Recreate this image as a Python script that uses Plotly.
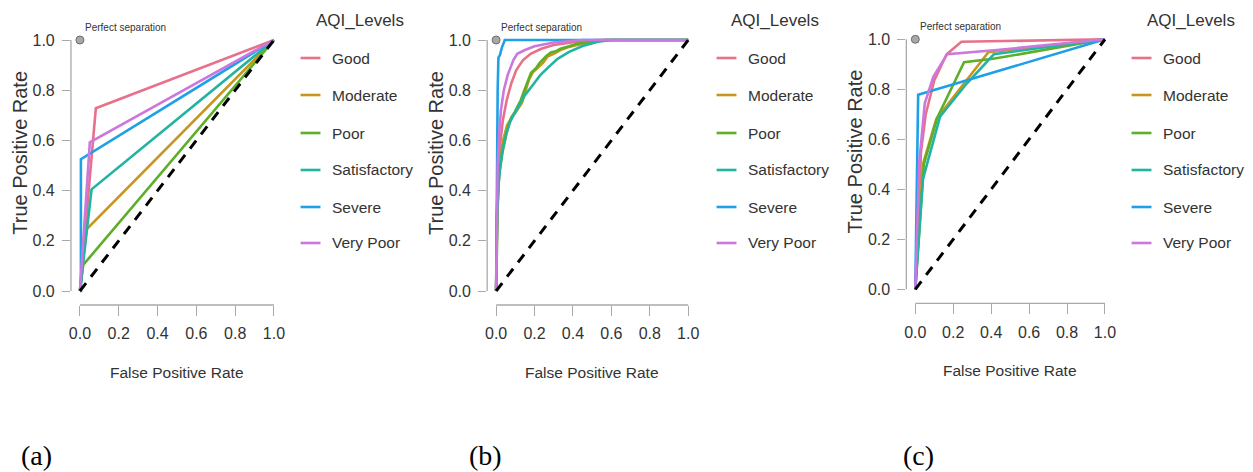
import plotly.graph_objects as go

# ---------------------------------------------------------------- data
levels = ["Good", "Moderate", "Poor", "Satisfactory", "Severe", "Very Poor"]
line_colors = ["#E8718A", "#C8961E", "#5DAF2A", "#21B4A0", "#1FA0E6", "#CC77DD"]

tick_vals = [0.0, 0.2, 0.4, 0.6, 0.8, 1.0]
tick_text = ["0.0", "0.2", "0.4", "0.6", "0.8", "1.0"]
panel_tags = ["(a)", "(b)", "(c)"]

# (a) single-threshold ROC curves
fpr_a = {
    "Good": [0.0, 0.082, 1.0],
    "Moderate": [0.0, 0.034, 1.0],
    "Poor": [0.0, 0.017, 1.0],
    "Satisfactory": [0.0, 0.060, 1.0],
    "Severe": [0.0, 0.005, 0.005, 1.0],
    "Very Poor": [0.0, 0.051, 1.0],
}
tpr_a = {
    "Good": [0.0, 0.728, 1.0],
    "Moderate": [0.0, 0.246, 1.0],
    "Poor": [0.0, 0.104, 1.0],
    "Satisfactory": [0.0, 0.405, 1.0],
    "Severe": [0.0, 0.0, 0.525, 1.0],
    "Very Poor": [0.0, 0.592, 1.0],
}

# (b) probability-based ROC curves
fpr_b = {
    "Good": [0.0, 0.003, 0.010, 0.020, 0.035, 0.055, 0.080, 0.105, 0.140, 0.180, 0.235, 0.300, 0.420, 0.520, 1.0],
    "Moderate": [0.0, 0.005, 0.012, 0.020, 0.036, 0.057, 0.080, 0.100, 0.135, 0.150, 0.170, 0.190, 0.220, 0.245, 0.270, 0.300, 0.335, 0.370, 0.420, 0.500, 0.570, 1.0],
    "Poor": [0.0, 0.005, 0.010, 0.017, 0.035, 0.055, 0.078, 0.095, 0.128, 0.147, 0.165, 0.182, 0.210, 0.228, 0.260, 0.285, 0.310, 0.335, 0.380, 0.420, 0.500, 0.560, 1.0],
    "Satisfactory": [0.0, 0.005, 0.015, 0.030, 0.050, 0.070, 0.090, 0.120, 0.150, 0.190, 0.230, 0.270, 0.320, 0.380, 0.450, 0.530, 0.600, 1.0],
    "Severe": [0.0, 0.003, 0.005, 0.008, 0.012, 0.020, 0.030, 0.045, 1.0],
    "Very Poor": [0.0, 0.003, 0.008, 0.015, 0.025, 0.040, 0.060, 0.075, 0.090, 0.110, 0.150, 0.200, 0.300, 0.450, 1.0],
}
tpr_b = {
    "Good": [0.0, 0.300, 0.450, 0.580, 0.680, 0.760, 0.830, 0.880, 0.920, 0.945, 0.965, 0.980, 0.993, 1.000, 1.0],
    "Moderate": [0.0, 0.300, 0.420, 0.520, 0.600, 0.660, 0.690, 0.710, 0.750, 0.790, 0.840, 0.870, 0.890, 0.910, 0.935, 0.945, 0.960, 0.970, 0.980, 0.990, 1.000, 1.0],
    "Poor": [0.0, 0.300, 0.400, 0.470, 0.560, 0.630, 0.690, 0.710, 0.760, 0.800, 0.840, 0.870, 0.890, 0.910, 0.935, 0.950, 0.955, 0.965, 0.975, 0.985, 0.995, 1.000, 1.0],
    "Satisfactory": [0.0, 0.300, 0.450, 0.550, 0.620, 0.670, 0.700, 0.740, 0.780, 0.820, 0.860, 0.890, 0.925, 0.953, 0.976, 0.993, 1.000, 1.0],
    "Severe": [0.0, 0.300, 0.690, 0.800, 0.930, 0.940, 0.970, 1.000, 1.0],
    "Very Poor": [0.0, 0.300, 0.500, 0.620, 0.720, 0.800, 0.860, 0.890, 0.920, 0.945, 0.960, 0.975, 0.990, 1.000, 1.0],
}

# (c) coarse multi-threshold ROC curves
fpr_c = {
    "Good": [0.0, 0.030, 0.055, 0.100, 0.165, 0.243, 1.0],
    "Moderate": [0.0, 0.040, 0.110, 0.385, 1.0],
    "Poor": [0.0, 0.045, 0.115, 0.257, 0.410, 1.0],
    "Satisfactory": [0.0, 0.040, 0.130, 0.270, 0.414, 1.0],
    "Severe": [0.0, 0.015, 1.0],
    "Very Poor": [0.0, 0.020, 0.050, 0.095, 0.168, 0.430, 1.0],
}
tpr_c = {
    "Good": [0.0, 0.550, 0.700, 0.835, 0.940, 0.990, 1.0],
    "Moderate": [0.0, 0.500, 0.680, 0.948, 1.0],
    "Poor": [0.0, 0.500, 0.685, 0.908, 0.922, 1.0],
    "Satisfactory": [0.0, 0.440, 0.690, 0.822, 0.940, 1.0],
    "Severe": [0.0, 0.778, 1.0],
    "Very Poor": [0.0, 0.500, 0.744, 0.850, 0.940, 0.957, 1.0],
}

curves = [(fpr_a, tpr_a), (fpr_b, tpr_b), (fpr_c, tpr_c)]

# ---------------------------------------------------------------- layout geometry (pixels)
W, H = 1253, 472
# pixel position of data 0 and 1 on each axis, per panel
frames = [
    dict(x0=78.3, x1=273.3, y0=291.0, y1=40.0),
    dict(x0=496.5, x1=689.5, y0=291.0, y1=40.0),
    dict(x0=917.7, x1=1108.3, y0=289.3, y1=39.3),
]
legend_x = [300, 718, 1135]
legend_rows = [58, 95, 133, 170, 207, 243]
tag_x = [35, 486, 921]

SANS = "Liberation Sans, Arial, sans-serif"
SERIF = "Liberation Serif, Times New Roman, serif"
AXIS_GREY = "#a9a9a9"
TEXT = "#333333"

fig = go.Figure()
layout = dict(
    width=W, height=H, margin=dict(l=0, r=0, t=0, b=0),
    paper_bgcolor="white", plot_bgcolor="white", showlegend=False,
)
shapes, annotations = [], []


def px(x):
    return x / W


def py(y):
    return 1 - y / H


for i, fr in enumerate(frames):
    n = "" if i == 0 else str(i + 1)
    xs = fr["x1"] - fr["x0"]
    ys = fr["y0"] - fr["y1"]
    left = fr["x0"] - 9
    right = fr["x0"] + 1.04 * xs
    top = fr["y1"] - 0.04 * ys
    bottom = fr["y0"] + 14

    layout["xaxis" + n] = dict(
        domain=[px(left), px(right)], range=[(left - fr["x0"]) / xs, 1.04],
        anchor="y" + n, showgrid=False, zeroline=False, showline=False,
        ticks="outside", ticklen=10, tickwidth=1.3, tickcolor=AXIS_GREY,
        tickvals=tick_vals, ticktext=tick_text, ticklabelstandoff=4,
        tickfont=dict(family=SANS, size=16, color=TEXT),
    )
    layout["yaxis" + n] = dict(
        domain=[py(bottom), py(top)], range=[-14 / ys, 1.04],
        anchor="x" + n, showgrid=False, zeroline=False, showline=False,
        ticks="outside", ticklen=8, tickwidth=1.3, tickcolor=AXIS_GREY,
        tickvals=tick_vals, ticktext=tick_text, ticklabelstandoff=4,
        tickfont=dict(family=SANS, size=16, color=TEXT),
    )

    # axis lines spanning first to last tick
    shapes.append(dict(type="line", xref="x" + n, yref="y" + n + " domain",
                       x0=0, x1=1, y0=0, y1=0,
                       line=dict(color=AXIS_GREY, width=1.3)))
    shapes.append(dict(type="line", xref="x" + n + " domain", yref="y" + n,
                       x0=0, x1=0, y0=0, y1=1,
                       line=dict(color=AXIS_GREY, width=1.3)))

    fpr, tpr = curves[i]
    for lvl, col in zip(levels, line_colors):
        fig.add_trace(go.Scatter(
            x=fpr[lvl], y=tpr[lvl], mode="lines", name=lvl,
            line=dict(color=col, width=2.6),
            xaxis="x" + n, yaxis="y" + n, hoverinfo="skip",
        ))

    # chance diagonal
    fig.add_trace(go.Scatter(
        x=[0, 1], y=[0, 1], mode="lines",
        line=dict(color="black", width=3, dash="10px,8px"),
        xaxis="x" + n, yaxis="y" + n, hoverinfo="skip",
    ))
    # perfect separation point
    fig.add_trace(go.Scatter(
        x=[0], y=[1], mode="markers",
        marker=dict(size=8, color="#a8a8a8", line=dict(color="#6e6e6e", width=1)),
        xaxis="x" + n, yaxis="y" + n, hoverinfo="skip", cliponaxis=False,
    ))
    annotations.append(dict(
        text="Perfect separation", xref="x" + n, yref="y" + n, x=0, y=1,
        xanchor="left", yanchor="middle", xshift=3, yshift=13, showarrow=False,
        font=dict(family=SANS, size=10, color=TEXT),
    ))

    # axis titles
    annotations.append(dict(
        text="False Positive Rate", xref="paper", yref="paper",
        x=px((fr["x0"] + fr["x1"]) / 2), y=py(fr["y0"] + 81),
        xanchor="center", yanchor="middle", showarrow=False,
        font=dict(family=SANS, size=15.5, color=TEXT),
    ))
    annotations.append(dict(
        text="True Positive Rate", xref="paper", yref="paper",
        x=px(fr["x0"] - 61), y=py(fr["y1"] + 112.5), textangle=-90,
        xanchor="center", yanchor="middle", showarrow=False,
        font=dict(family=SANS, size=20, color=TEXT),
    ))

    # legend
    lx = legend_x[i]
    annotations.append(dict(
        text="AQI_Levels", xref="paper", yref="paper",
        x=px(lx + 13), y=py(20), xanchor="left", yanchor="middle",
        showarrow=False, font=dict(family=SANS, size=17, color=TEXT),
    ))
    for lvl, col, ry in zip(levels, line_colors, legend_rows):
        shapes.append(dict(type="line", xref="paper", yref="paper",
                           x0=px(lx), x1=px(lx + 20), y0=py(ry), y1=py(ry),
                           line=dict(color=col, width=2.6)))
        annotations.append(dict(
            text=lvl, xref="paper", yref="paper",
            x=px(lx + 30), y=py(ry), xanchor="left", yanchor="middle",
            showarrow=False, font=dict(family=SANS, size=15.5, color=TEXT),
        ))

    # panel tag
    annotations.append(dict(
        text=panel_tags[i], xref="paper", yref="paper",
        x=px(tag_x[i]), y=py(455), xanchor="center", yanchor="middle",
        showarrow=False, font=dict(family=SERIF, size=28, color="black"),
    ))

layout["shapes"] = shapes
layout["annotations"] = annotations
fig.update_layout(**layout)
fig.write_html("out.html")
